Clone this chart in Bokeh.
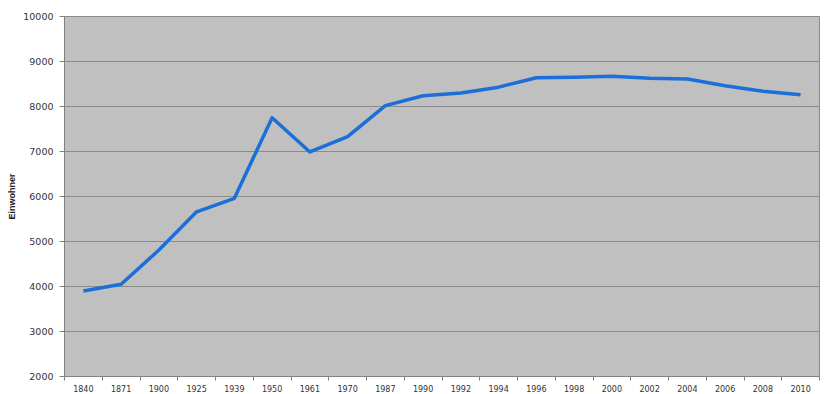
from bokeh.plotting import figure
from bokeh.models import FixedTicker, Range1d
from bokeh.embed import file_html
from bokeh.resources import INLINE

years = ["1840", "1871", "1900", "1925", "1939", "1950", "1961", "1970", "1987", "1990",
         "1992", "1994", "1996", "1998", "2000", "2002", "2004", "2006", "2008", "2010"]
einwohner = [3900, 4050, 4810, 5660, 5960, 7750, 6990, 7330, 8020, 8240,
             8300, 8430, 8640, 8650, 8670, 8630, 8610, 8460, 8340, 8260]
y_ticks = [2000, 3000, 4000, 5000, 6000, 7000, 8000, 9000, 10000]

xpos = [i + 0.5 for i in range(len(years))]

p = figure(frame_width=755, frame_height=360, output_backend="svg", toolbar_location=None,
           x_range=Range1d(0, len(years)), y_range=Range1d(2000, 10000),
           min_border_left=64, min_border_right=4, min_border_top=16, min_border_bottom=0)
p.background_fill_color = "#c0c0c0"
p.border_fill_color = "#ffffff"
p.outline_line_color = "#8a8a8a"

p.line(xpos, einwohner, line_color="#1a6fd8", line_width=3.5, line_join="round")

p.xaxis.ticker = FixedTicker(ticks=xpos, minor_ticks=list(range(len(years) + 1)))
p.xaxis.major_label_overrides = {x: y for x, y in zip(xpos, years)}
p.xaxis.major_tick_line_color = None
p.xaxis.major_tick_out = 0
p.xaxis.major_tick_in = 0
p.xaxis.minor_tick_line_color = "#808080"
p.xaxis.minor_tick_out = 4
p.xaxis.minor_tick_in = 0
p.xaxis.axis_line_color = "#808080"
p.xaxis.major_label_text_font = "DejaVu Sans"
p.xaxis.major_label_text_font_size = "8px"
p.xaxis.major_label_text_color = "#333333"
p.xaxis.major_label_standoff = 4

p.yaxis.ticker = FixedTicker(ticks=y_ticks)
p.yaxis.minor_tick_line_color = None
p.yaxis.major_tick_line_color = "#808080"
p.yaxis.major_tick_out = 5
p.yaxis.major_tick_in = 0
p.yaxis.axis_line_color = "#808080"
p.yaxis.major_label_text_font = "DejaVu Sans"
p.yaxis.major_label_text_font_size = "9.5px"
p.yaxis.major_label_text_color = "#333333"
p.yaxis.major_label_standoff = 6
p.yaxis.axis_label = "Einwohner"
p.yaxis.axis_label_text_font = "Liberation Sans"
p.yaxis.axis_label_text_font_size = "9px"
p.yaxis.axis_label_text_font_style = "bold"
p.yaxis.axis_label_text_color = "#222222"
p.yaxis.axis_label_standoff = 3

p.xgrid.grid_line_color = None
p.ygrid.grid_line_color = "#8c8c8c"
p.ygrid.grid_line_width = 1

open("out.html", "w").write(file_html(p, INLINE))
